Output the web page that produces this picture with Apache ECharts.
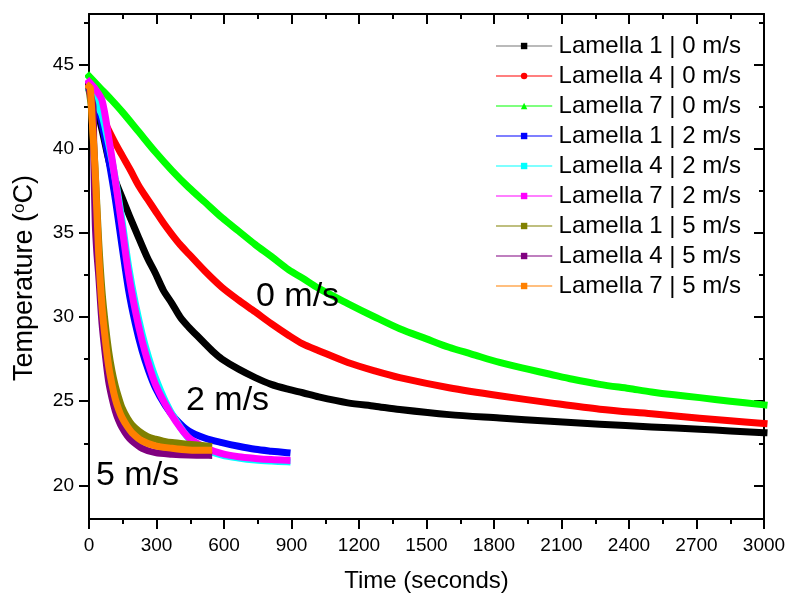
<!DOCTYPE html>
<html>
<head>
<meta charset="utf-8">
<script src="https://cdn.jsdelivr.net/npm/echarts@6/dist/echarts.min.js"></script>
<style>html,body{margin:0;padding:0;background:#fff}#c{width:787px;height:594px}</style>
</head>
<body>
<div id="c"></div>
<script>
// ---- data (time in seconds, temperature in °C) ----
var seriesNames = ['Lamella 1 | 0 m/s','Lamella 4 | 0 m/s','Lamella 7 | 0 m/s',
  'Lamella 1 | 2 m/s','Lamella 4 | 2 m/s','Lamella 7 | 2 m/s',
  'Lamella 1 | 5 m/s','Lamella 4 | 5 m/s','Lamella 7 | 5 m/s'];
var seriesColors = ['#000000','#ff0000','#00ff00','#0000ff','#00ffff','#ff00ff','#808000','#800080','#ff8000'];
var seriesSymbols = ['rect','circle','triangle','rect','rect','rect','rect','rect','rect'];

var xTicks = [0,300,600,900,1200,1500,1800,2100,2400,2700,3000];
var yTickLabels = [20,25,30,35,40,45];
var yMinorTicks = [22.5,27.5,32.5,37.5,42.5,47.5];

var l1_0 = [[0,43.8],[30,42.6],[60,41.0],[92,39.1],[120,38.0],[147,37.1],[180,36.0],[221,34.7],[260,33.5],[295,32.6],[330,31.6],[369,30.8],[405,30.0],[443,29.4],[480,28.9],[517,28.4],[555,27.9],[591,27.5],[665,26.9],[739,26.4],[810,26.0],[888,25.7],[950,25.5],[1021,25.25],[1150,24.9],[1270,24.7],[1381,24.5],[1600,24.2],[1825,24.0],[2050,23.8],[2270,23.63],[2500,23.47],[2714,23.33],[2850,23.23],[3000,23.13]];
var l4_0 = [[0,43.9],[35,42.8],[73,41.5],[110,40.5],[147,39.6],[185,38.7],[221,37.8],[260,37.0],[295,36.3],[330,35.6],[369,34.9],[405,34.3],[443,33.75],[517,32.7],[591,31.76],[665,31.0],[739,30.3],[810,29.6],[888,28.9],[950,28.4],[1021,28.0],[1150,27.3],[1270,26.8],[1381,26.4],[1600,25.8],[1825,25.32],[2050,24.9],[2270,24.52],[2500,24.25],[2714,23.99],[2850,23.83],[3000,23.67]];
var l7_0 = [[0,44.3],[50,43.6],[100,42.9],[147,42.2],[221,41.0],[295,39.8],[369,38.7],[443,37.7],[517,36.8],[591,35.9],[665,35.1],[739,34.3],[810,33.6],[888,32.8],[950,32.3],[1021,31.7],[1150,30.8],[1270,30.0],[1381,29.3],[1500,28.7],[1600,28.2],[1700,27.8],[1825,27.3],[1950,26.9],[2050,26.6],[2150,26.3],[2270,26.0],[2400,25.75],[2500,25.55],[2600,25.38],[2714,25.21],[2850,25.0],[3000,24.78]];
var l1_2 = [[0,43.5],[20,43.0],[43,42.3],[65,41.0],[87,39.4],[117,37.0],[147,34.2],[176,31.6],[206,29.6],[236,28.0],[265,26.8],[295,25.8],[339,24.75],[384,23.95],[443,23.23],[517,22.8],[591,22.54],[665,22.32],[739,22.14],[810,22.03],[880,21.94]];
var l4_2 = [[0,43.5],[20,43.1],[36,42.6],[58,42.0],[87,40.3],[117,38.2],[147,35.7],[176,33.0],[206,30.8],[236,29.0],[265,27.6],[295,26.4],[339,25.0],[384,23.9],[443,22.8],[517,22.15],[591,21.8],[665,21.62],[739,21.5],[810,21.44],[880,21.4]];
var l7_2 = [[0,43.96],[30,43.5],[58,42.87],[87,40.7],[117,38.1],[147,35.33],[176,32.56],[206,30.37],[236,28.59],[265,27.2],[295,26.01],[339,24.82],[384,23.83],[443,22.83],[517,22.24],[591,21.88],[665,21.7],[739,21.6],[810,21.53],[880,21.49]];
var l1_5 = [[0,43.5],[10,42.5],[20,40.5],[30,38.0],[43,34.5],[58,31.5],[73,29.5],[87,28.0],[102,26.8],[117,25.9],[132,25.2],[147,24.6],[170,24.0],[191,23.6],[221,23.23],[260,22.9],[295,22.74],[330,22.63],[369,22.54],[443,22.44],[532,22.33]];
var l4_5 = [[0,43.6],[10,43.0],[18,42.5],[22,39.0],[28,35.5],[35,33.8],[43,32.5],[58,29.6],[73,27.7],[87,26.2],[102,25.2],[117,24.42],[132,23.85],[147,23.43],[170,22.95],[191,22.64],[236,22.2],[295,21.94],[369,21.85],[443,21.8],[532,21.78]];
var l7_5 = [[0,43.7],[6,43.6],[15,41.5],[28,38.5],[43,33.75],[58,30.57],[73,28.59],[87,27.1],[102,26.0],[117,25.12],[132,24.5],[147,24.02],[170,23.5],[191,23.13],[236,22.64],[295,22.34],[369,22.2],[443,22.1],[532,22.08]];
var seriesData = [l1_0,l4_0,l7_0,l1_2,l4_2,l7_2,l1_5,l4_5,l7_5];

var FONT = "'Liberation Sans', Arial, sans-serif";
var chart = echarts.init(document.getElementById('c'), null, {renderer:'canvas'});

var axisLineStyle = {show:true, lineStyle:{color:'#000', width:2}};
var plain = function(v){ return String(v); };
var series = seriesData.map(function(d, i){
  return {
    name: seriesNames[i], type:'line', data:d,
    xAxisIndex:0, yAxisIndex:0,
    symbol: seriesSymbols[i], symbolSize:7, showSymbol:false,
    smooth:0.3,
    lineStyle:{color:seriesColors[i], width:7, cap:'square', join:'round'},
    itemStyle:{color:seriesColors[i]},
    emphasis:{disabled:true}, animation:false, clip:true, z: 2
  };
});

var option = {
  animation:false,
  backgroundColor:'#fff',
  grid:{left:89, right:23, top:14, bottom:75, outerBoundsMode:'none', containLabel:false},
  legend:{
    orient:'vertical', left:491, top:29, itemGap:6,
    itemWidth:55, itemHeight:8,
    data: seriesNames.map(function(n, i){
      return i === 0 ? {name:n, lineStyle:{color:'#777'}} : {name:n};
    }),
    textStyle:{fontFamily:FONT, fontSize:24, color:'#000', lineHeight:24, padding:[0,0,0,2]},
    lineStyle:{width:1.2},
    selectedMode:false
  },
  xAxis:[
    {type:'value', position:'bottom', min:0, max:3000, interval:300,
     axisLine:axisLineStyle,
     axisTick:{show:true, inside:false, length:10, lineStyle:{width:2, color:'#000'}},
     minorTick:{show:true, splitNumber:2, length:5, lineStyle:{width:2, color:'#000'}},
     splitLine:{show:false}, minorSplitLine:{show:false},
     axisLabel:{fontFamily:FONT, fontSize:19, color:'#000', margin:17, formatter:plain},
     name:'Time (seconds)', nameLocation:'middle', nameGap:50,
     nameTextStyle:{fontFamily:FONT, fontSize:24, color:'#000'}},
    {type:'value', position:'top', min:0, max:3000, interval:300,
     axisLine:axisLineStyle,
     axisTick:{show:true, inside:true, length:10, lineStyle:{width:2, color:'#000'}},
     minorTick:{show:true, splitNumber:2, length:5, lineStyle:{width:2, color:'#000'}},
     splitLine:{show:false}, axisLabel:{show:false}}
  ],
  yAxis:[
    {type:'value', position:'left', min:18, max:48,
     axisLine:axisLineStyle,
     axisTick:{show:true, inside:false, length:10, customValues:yTickLabels, lineStyle:{width:2, color:'#000'}},
     axisLabel:{fontFamily:FONT, fontSize:19, color:'#000', margin:15, customValues:yTickLabels, formatter:plain},
     splitLine:{show:false}},
    {type:'value', position:'left', min:18, max:48,
     axisLine:{show:false},
     axisTick:{show:true, inside:false, length:5, customValues:yMinorTicks, lineStyle:{width:2, color:'#000'}},
     axisLabel:{show:false}, splitLine:{show:false}},
    {type:'value', position:'right', min:18, max:48,
     axisLine:axisLineStyle,
     axisTick:{show:true, inside:true, length:10, customValues:yTickLabels, lineStyle:{width:2, color:'#000'}},
     axisLabel:{show:false}, splitLine:{show:false}},
    {type:'value', position:'right', min:18, max:48,
     axisLine:{show:false},
     axisTick:{show:true, inside:true, length:5, customValues:yMinorTicks, lineStyle:{width:2, color:'#000'}},
     axisLabel:{show:false}, splitLine:{show:false}}
  ],
  graphic:[
    {type:'text', x:25, y:278, rotation:Math.PI/2,
     style:{text:'Temperature ({sup|o}C)', fontFamily:FONT, fontSize:27, fill:'#000', align:'center', verticalAlign:'middle',
       rich:{sup:{fontFamily:FONT, fontSize:17, fill:'#000', verticalAlign:'top', padding:[0,0,12,0]}}}, z:100},
    {type:'text', x:256, y:297, style:{text:'0 m/s', fontFamily:FONT, fontSize:34, fill:'#000', verticalAlign:'middle'}, z:100},
    {type:'text', x:186, y:401, style:{text:'2 m/s', fontFamily:FONT, fontSize:34, fill:'#000', verticalAlign:'middle'}, z:100},
    {type:'text', x:96, y:476, style:{text:'5 m/s', fontFamily:FONT, fontSize:34, fill:'#000', verticalAlign:'middle'}, z:100}
  ],
  series: series
};
chart.setOption(option);
</script>
</body>
</html>
